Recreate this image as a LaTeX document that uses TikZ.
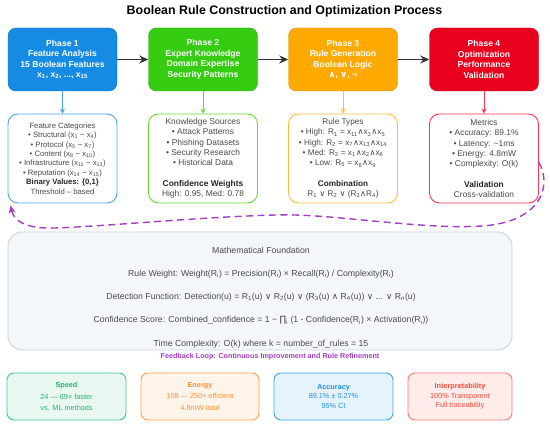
\documentclass[tikz,border=0pt]{standalone}
\usepackage{fontspec}
\setmainfont{Liberation Sans}
\newfontfamily\djv{DejaVu Sans}
\usetikzlibrary{arrows.meta}
\newcommand{\sbx}[1]{\textsubscript{#1}}
\newcommand{\myand}{{\djv ∧}}
\newcommand{\myor}{{\djv ∨}}
\definecolor{pone}{HTML}{168BE4}
\definecolor{ptwo}{HTML}{36CC12}
\definecolor{pthree}{HTML}{FFAA00}
\definecolor{pfour}{HTML}{E8001E}
\definecolor{done}{HTML}{4AA6EA}
\definecolor{dtwo}{HTML}{66DA33}
\definecolor{dthree}{HTML}{FFBA40}
\definecolor{dfour}{HTML}{FF3552}
\definecolor{txtgray}{HTML}{4A4A4A}
\definecolor{fbpurple}{HTML}{A43CC4}
\definecolor{mathfill}{HTML}{F4F7FA}
\definecolor{mathdraw}{HTML}{C9D0D6}
\definecolor{spdraw}{HTML}{40C890}
\definecolor{spfill}{HTML}{E8F8F1}
\definecolor{sptext}{HTML}{22B472}
\definecolor{endraw}{HTML}{FFA04A}
\definecolor{enfill}{HTML}{FFF4EA}
\definecolor{entext}{HTML}{FF9233}
\definecolor{acdraw}{HTML}{3BA7EA}
\definecolor{acfill}{HTML}{E5F3FC}
\definecolor{actext}{HTML}{1E90E6}
\definecolor{indraw}{HTML}{FF7A6E}
\definecolor{infill}{HTML}{FDECEA}
\definecolor{intext}{HTML}{FF4B3A}
\tikzset{
  phasebox/.style={rounded corners=8pt, minimum width=109pt, minimum height=63pt, align=center, text=white, font=\fontsize{8.6}{10.5}\selectfont\bfseries, inner sep=0pt},
  detbox/.style={rounded corners=10pt, fill=white, line width=0.9pt, minimum width=109pt, minimum height=89pt, align=center, text=txtgray, inner sep=0pt},
  flowarrow/.style={draw=black!80, line width=1.4pt, -{Stealth[length=9pt,width=8pt]}},
  downarrow/.style={line width=0.8pt, -{Stealth[length=5pt,width=5pt]}},
  fb/.style={draw=fbpurple, line width=1.4pt, dash pattern=on 7pt off 4.5pt, -{Stealth[length=8pt,width=7pt]}},
  botbox/.style={rounded corners=7pt, line width=0.9pt, minimum height=47pt, align=center, inner sep=0pt},
}
\begin{document}
\begin{tikzpicture}[x=1pt,y=-1pt]
\useasboundingbox (0,0) rectangle (550,425);
% title
\node (title) at (284.5,11) {\fontsize{12.4}{14}\selectfont\bfseries Boolean Rule Construction and Optimization Process};
% phase boxes
\node[phasebox, fill=pone, draw=pone!80!black] (p1) at (62.5,59.5) {Phase 1\\Feature Analysis\\15 Boolean Features\\x\sbx{1}, x\sbx{2}, ..., x\sbx{15}};
\node[phasebox, fill=ptwo, draw=ptwo!80!black] (p2) at (203,59.5) {Phase 2\\Expert Knowledge\\Domain Expertise\\Security Patterns};
\node[phasebox, fill=pthree, draw=pthree!85!black] (p3) at (343,59.5) {Phase 3\\Rule Generation\\Boolean Logic\\\myand, \myor, ¬};
\node[phasebox, fill=pfour, draw=pfour!80!black] (p4) at (484,59.5) {Phase 4\\Optimization\\Performance\\Validation};
\draw[flowarrow] (p1) -- (p2);
\draw[flowarrow] (p2) -- (p3);
\draw[flowarrow] (p3) -- (p4);
% detail boxes
\node[detbox, draw=done, font=\fontsize{7.7}{9.4}\selectfont] (d1) at (62.5,158.5) {Feature Categories\\
• Structural (x\sbx{1} − x\sbx{4})\\
• Protocol (x\sbx{5} − x\sbx{7})\\
• Content (x\sbx{8} − x\sbx{10})\\
• Infrastructure (x\sbx{11} − x\sbx{13})\\
• Reputation (x\sbx{14} − x\sbx{15})\\
{\color{black!85}\bfseries Binary Values: \{0,1\}}\\
Threshold – based};
\node[detbox, draw=dtwo, font=\fontsize{8.4}{10.3}\selectfont] (d2) at (203,158.5) {Knowledge Sources\\
• Attack Patterns\\
• Phishing Datasets\\
• Security Research\\
• Historical Data\\[10.3pt]
{\color{black!85}\bfseries Confidence Weights}\\
High: 0.95, Med: 0.78};
\node[detbox, draw=dthree, font=\fontsize{8.2}{10.3}\selectfont] (d3) at (343,158.5) {Rule Types\\
• High: R\sbx{1} = x\sbx{11}\myand x\sbx{3}\myand x\sbx{5}\\
• High: R\sbx{2} = x\sbx{7}\myand x\sbx{13}\myand x\sbx{14}\\
• Med: R\sbx{3} = x\sbx{1}\myand x\sbx{2}\myand x\sbx{6}\\
• Low: R\sbx{5} = x\sbx{8}\myand x\sbx{9}\\[10.3pt]
{\color{black!85}\bfseries Combination}\\
R\sbx{1} \myor\ R\sbx{2} \myor\ (R\sbx{3}\myand R\sbx{4})};
\node[detbox, draw=dfour, font=\fontsize{8.4}{10.3}\selectfont] (d4) at (484,158.5) {Metrics\\
• Accuracy: 89.1\%\\
• Latency: \textasciitilde 1ms\\
• Energy: 4.8mW\\
• Complexity: O(k)\\[10.3pt]
{\color{black!85}\bfseries Validation}\\
Cross-validation};
\draw[downarrow, draw=done] (p1) -- (d1);
\draw[downarrow, draw=dtwo] (p2) -- (d2);
\draw[downarrow, draw=dthree] (p3) -- (d3);
\draw[downarrow, draw=dfour] (p4) -- (d4);
% feedback loop
\draw[fb] ([yshift=-4pt]d4.east) .. controls (552,185) and (542,222) .. (482,226)
  .. controls (420,230) and (330,213) .. (275,215)
  .. controls (200,217) and (110,226) .. (55,228)
  .. controls (28,229) and (14,222) .. ([xshift=3pt,yshift=-2pt]d1.south west);
% math foundation
\node[rounded corners=14pt, fill=mathfill, draw=mathdraw, line width=0.9pt, minimum width=504pt, minimum height=118pt, inner sep=0pt] (m) at (260,291) {};
\node[align=center, text=txtgray, font=\fontsize{8.7}{23.25}\selectfont] (mt) at (261,297.5) {Mathematical Foundation\\
Rule Weight: Weight(R\sbx{i}) = Precision(R\sbx{i}) × Recall(R\sbx{i}) / Complexity(R\sbx{i})\\
Detection Function: Detection(u) = R\sbx{1}(u) \myor\ R\sbx{2}(u) \myor\ (R\sbx{3}(u) \myand\ R\sbx{4}(u)) \myor\ ... \myor\ R\sbx{n}(u)\\
Confidence Score: Combined\_confidence = 1 − {\djv ∏}\sbx{i} (1 - Confidence(R\sbx{i}) × Activation(R\sbx{i}))\\
Time Complexity: O(k) where k = number\_of\_rules = 15};
\node[text=fbpurple, font=\fontsize{7.2}{9}\selectfont\bfseries] (fbl) at (270,357) {Feedback Loop: Continuous Improvement and Rule Refinement};
% bottom boxes
\node[botbox, minimum width=119pt, draw=spdraw, fill=spfill, text=sptext, font=\fontsize{7.3}{11.8}\selectfont] (b1) at (66.5,396.5) {\textbf{Speed}\\24 — 69× faster\\vs. ML methods};
\node[botbox, minimum width=118pt, draw=endraw, fill=enfill, text=entext, font=\fontsize{7.3}{11.8}\selectfont] (b2) at (200,396.5) {\textbf{Energy}\\108 — 250× efficient\\4.8mW total};
\node[botbox, minimum width=119pt, draw=acdraw, fill=acfill, text=actext, font=\fontsize{7.3}{9.6}\selectfont] (b3) at (333.5,396.5) {\textbf{Accuracy}\\89.1\% ± 0.27\%\\95\% CI};
\node[botbox, minimum width=104pt, draw=indraw, fill=infill, text=intext, font=\fontsize{7.3}{9.6}\selectfont] (b4) at (460,396.5) {\textbf{Interpretability}\\100\% Transparent\\Full traceability};
\end{tikzpicture}
\end{document}
